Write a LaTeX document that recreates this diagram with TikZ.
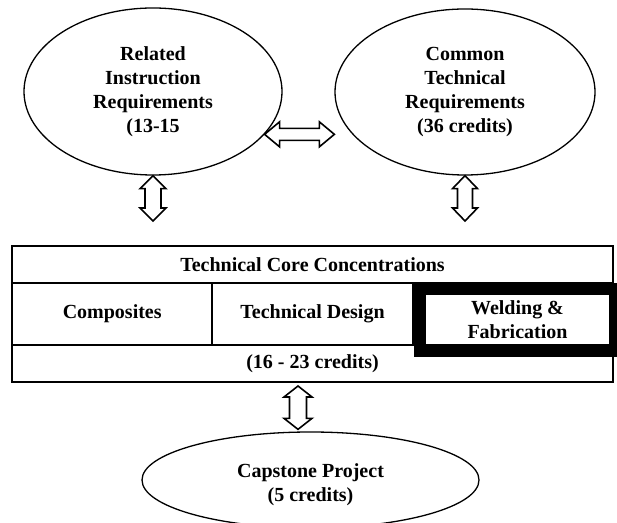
\documentclass[tikz,border=0pt]{standalone}
\usepackage{fontspec}
\setmainfont{Liberation Serif}
\usetikzlibrary{shapes.geometric, calc}

\newcommand{\lblfont}{\fontsize{20}{24}\selectfont\bfseries}
% outlined double block arrow: start, end, head length, head half width, shaft half width
\newcommand{\blockarrow}[5]{%
  \coordinate (ba1) at #1;
  \coordinate (ba2) at #2;
  \coordinate (bh1) at ($(ba1)!#3!(ba2)$);
  \coordinate (bh2) at ($(ba2)!#3!(ba1)$);
  \draw[blk] (ba1) -- ($(bh1)!#4!90:(ba2)$) -- ($(bh1)!#5!90:(ba2)$)
    -- ($(bh2)!#5!-90:(ba1)$) -- ($(bh2)!#4!-90:(ba1)$) -- (ba2)
    -- ($(bh2)!#4!90:(ba1)$) -- ($(bh2)!#5!90:(ba1)$)
    -- ($(bh1)!#5!-90:(ba2)$) -- ($(bh1)!#4!-90:(ba2)$) -- cycle;
}

\begin{document}
\begin{tikzpicture}[x=1pt, y=1pt,
    ell/.style={ellipse, draw, line width=1.3pt, font=\lblfont, align=center, inner sep=0pt},
    cell/.style={draw, line width=2pt, font=\lblfont, align=center, inner sep=0pt, minimum height=37pt},
    blk/.style={draw, line width=1.6pt, fill=white, line join=miter}]
    \useasboundingbox (0,0) rectangle (617,522);
    \clip (0,0) rectangle (617,522);

    % requirement ellipses
    \node[ell, minimum width=258pt, minimum height=167pt] (rel) at (153,430.5) {Related\\Instruction\\Requirements\\(13-15};
    \node[ell, minimum width=260pt, minimum height=166pt] (com) at (465,430) {Common\\Technical\\Requirements\\(36 credits)};

    % concentrations table
    \node[cell, minimum width=601pt] (core) at (312.5,257.5) {Technical Core Concentrations};
    \node[cell, minimum width=200.3pt, minimum height=62pt] (comp) at (112.2,208) {Composites};
    \node[cell, minimum width=200.3pt, minimum height=62pt] (tdes) at (312.5,208) {Technical Design};
    \node[cell, minimum width=601pt] (cred) at (312.5,158.5) {(16 - 23 credits)};
    \node[draw, line width=12pt, minimum width=195pt, minimum height=62pt,
          font=\lblfont, align=center, inner sep=0pt] (weld) at (517.5,202) {Welding \&\\Fabrication};

    % capstone (strut pushes the two lines a little lower)
    \node[ell, minimum width=337pt, minimum height=96pt] (cap) at (310.5,42) {\rule{0pt}{23pt}Capstone Project\\(5 credits)};

    % block arrows
    \blockarrow{(rel.-21)}{(com.west |- rel.-21)}{15pt}{12.5pt}{6pt}
    \blockarrow{(rel.south)}{($(rel.south |- core.north)+(0,24)$)}{13pt}{13pt}{8pt}
    \blockarrow{(com.south)}{($(com.south |- core.north)+(0,24)$)}{13pt}{12.5pt}{7.5pt}
    \coordinate (bt) at ($(cred.south)+(-14.5,-3)$);
    \blockarrow{(bt)}{($(bt |- cap.north)+(0,2)$)}{11pt}{14pt}{8.5pt}
\end{tikzpicture}
\end{document}
